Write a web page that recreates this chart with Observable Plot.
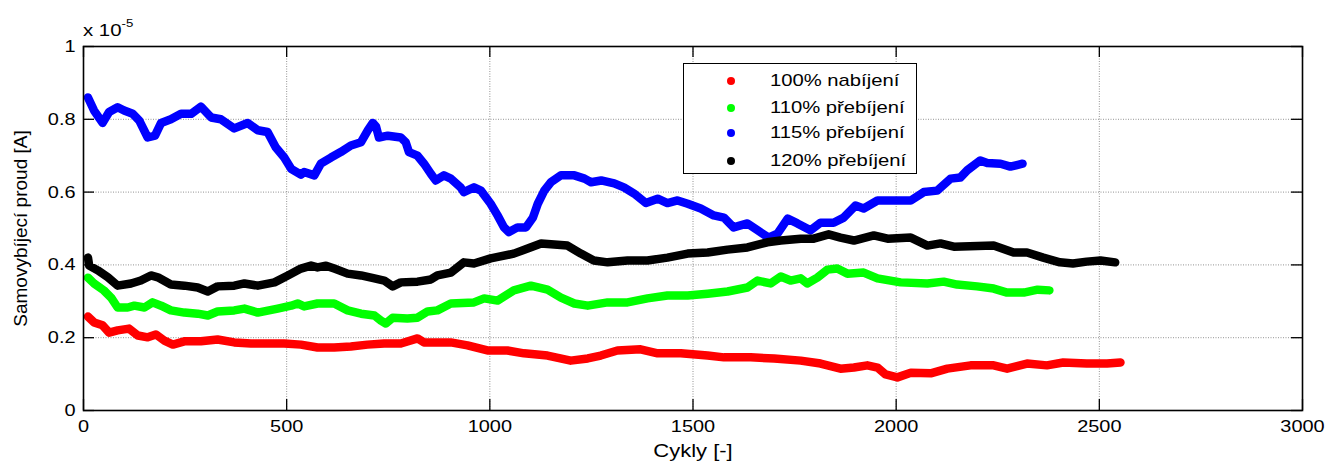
<!DOCTYPE html>
<html>
<head>
<meta charset="utf-8">
<script src="https://cdn.jsdelivr.net/npm/d3@7"></script>
<script src="https://cdn.jsdelivr.net/npm/@observablehq/plot@0.6"></script>
<style>
  html, body { margin: 0; padding: 0; background: #fff; }
  #wrap { position: relative; width: 1326px; height: 462px; font-family: "Liberation Sans", Arial, sans-serif; }
  #expo { position: absolute; left: 83px; top: 21px; font-size: 17px; color: #000; transform: scaleX(1.2); transform-origin: left center; white-space: nowrap; }
  #expo sup { font-size: 11px; position: relative; top: -4px; vertical-align: top; }
  #legend { position: absolute; left: 683px; top: 63px; width: 232px; height: 109px; border: 1.5px solid #000; background: #fff; font-size: 17px; }
  .row { position: absolute; left: 0; height: 20px; line-height: 20px; }
  .row .dot { position: absolute; left: 43px; top: 6px; width: 8px; height: 8px; border-radius: 50%; }
  .row .lab { position: absolute; left: 86px; white-space: nowrap; transform: scaleX(1.19); transform-origin: left center; }
</style>
</head>
<body>
<div id="wrap"></div>
<script>
// ---- data (y in units of 1e-5 A) ----
const xTicks = [0, 500, 1000, 1500, 2000, 2500, 3000];
const yTicks = [0, 0.2, 0.4, 0.6, 0.8, 1];

const seriesNames = ["100% nabíjení", "110% přebíjení", "115% přebíjení", "120% přebíjení"];
const seriesColors = ["#ff0000", "#00ff00", "#0000ff", "#000000"];

const cycles100 = [11,26,47,63,84,112,134,158,178,199,220,248,289,330,371,412,453,494,535,576,617,658,699,740,781,822,838,904,945,994,1043,1084,1142,1199,1241,1273,1314,1371,1413,1470,1536,1576,1642,1700,1765,1814,1863,1896,1929,1954,1974,2003,2036,2085,2126,2183,2240,2273,2322,2371,2411,2469,2519,2552];
const current100 = [.258,.242,.234,.214,.22,.225,.206,.201,.209,.192,.181,.19,.19,.195,.187,.184,.184,.184,.181,.173,.173,.176,.181,.184,.184,.198,.187,.187,.179,.165,.165,.157,.151,.137,.143,.151,.165,.168,.157,.157,.151,.146,.146,.143,.137,.129,.115,.118,.124,.118,.099,.091,.104,.102,.115,.124,.124,.115,.129,.124,.132,.129,.129,.132];

const cycles110 = [11,26,50,68,84,109,125,150,170,191,215,248,281,306,330,371,396,429,478,511,527,543,576,617,650,683,716,732,744,761,797,822,847,871,904,961,986,1019,1059,1101,1142,1175,1208,1241,1290,1339,1388,1437,1487,1536,1585,1634,1659,1691,1716,1740,1765,1781,1806,1831,1855,1880,1920,1954,2011,2077,2117,2150,2199,2240,2273,2314,2348,2377];
const current110 = [.365,.349,.33,.31,.283,.283,.288,.283,.297,.288,.275,.269,.266,.261,.272,.275,.28,.269,.28,.288,.294,.286,.294,.294,.275,.266,.261,.247,.239,.255,.253,.255,.272,.275,.294,.297,.308,.302,.33,.343,.332,.31,.294,.288,.297,.297,.308,.316,.316,.321,.327,.338,.357,.349,.368,.357,.363,.349,.365,.387,.39,.376,.379,.363,.352,.349,.354,.346,.341,.335,.324,.324,.332,.33];

const cycles115 = [11,26,47,63,84,100,121,137,158,176,191,215,240,265,289,314,338,371,404,429,453,473,494,511,535,543,568,584,609,633,658,683,700,712,720,727,749,781,793,801,822,838,855,867,887,904,928,936,961,978,1002,1019,1035,1047,1068,1089,1106,1118,1134,1150,1175,1208,1233,1249,1274,1306,1330,1355,1384,1413,1437,1462,1487,1519,1551,1576,1600,1634,1659,1686,1708,1733,1757,1789,1814,1846,1871,1900,1920,1954,1994,2036,2068,2101,2134,2158,2175,2207,2224,2257,2281,2311];
const current115 = [.86,.824,.79,.82,.833,.824,.815,.797,.75,.755,.79,.80,.815,.815,.835,.805,.80,.775,.79,.77,.765,.723,.695,.664,.648,.655,.646,.678,.695,.71,.728,.737,.77,.79,.78,.75,.755,.75,.737,.71,.70,.678,.65,.632,.646,.637,.613,.60,.613,.604,.568,.536,.503,.49,.503,.503,.53,.568,.604,.627,.646,.646,.637,.627,.632,.624,.613,.596,.57,.582,.57,.577,.568,.555,.536,.53,.503,.514,.495,.475,.486,.527,.514,.495,.516,.516,.53,.563,.555,.577,.577,.577,.60,.604,.637,.64,.66,.687,.68,.678,.67,.678];

const cycles120 = [11,14,35,60,84,117,141,166,183,215,248,281,306,330,371,396,429,470,503,535,560,576,597,617,650,683,716,740,761,781,822,855,871,904,936,961,1002,1059,1093,1126,1191,1224,1256,1290,1339,1388,1437,1487,1536,1585,1634,1683,1716,1765,1797,1834,1863,1896,1945,1979,2036,2077,2109,2142,2240,2289,2322,2362,2403,2435,2469,2503,2539];
const current120 = [.42,.398,.385,.366,.343,.349,.357,.371,.366,.346,.343,.338,.327,.341,.343,.349,.343,.352,.371,.39,.398,.393,.398,.39,.376,.371,.363,.357,.341,.352,.354,.36,.371,.379,.407,.404,.418,.431,.445,.459,.453,.431,.412,.407,.412,.412,.42,.431,.434,.442,.448,.462,.467,.472,.472,.484,.475,.467,.481,.472,.475,.453,.459,.45,.453,.434,.434,.42,.407,.404,.409,.412,.407];

const xs = [cycles100, cycles110, cycles115, cycles120];
const ys = [current100, current110, current115, current120];
const rows = [];
seriesNames.forEach((name, s) => {
  xs[s].forEach((x, i) => rows.push({series: name, cycle: x, current: ys[s][i]}));
});

const fmt = d => String(d);

// layout
const W = 1326, H = 462, mL = 83, mR = 24, mT = 46, mB = 52;
const innerW = W - mL - mR, innerH = H - mT - mB;
const tickLen = 11;
const tickStyle = {stroke: "#000", strokeWidth: 1.3};

const chart = Plot.plot({
  width: W,
  height: H,
  marginLeft: mL,
  marginRight: mR,
  marginTop: mT,
  marginBottom: mB,
  style: {fontFamily: "'Liberation Sans', Arial, sans-serif", fontSize: "17px", color: "#000", background: "#fff"},
  x: {domain: [0, 3000]},
  y: {domain: [0, 1]},
  color: {domain: seriesNames, range: seriesColors},
  marks: [
    Plot.gridX(xTicks, {stroke: "#777", strokeOpacity: 1, strokeDasharray: "1,1.5", strokeWidth: 0.8}),
    Plot.gridY(yTicks, {stroke: "#777", strokeOpacity: 1, strokeDasharray: "1,1.5", strokeWidth: 0.8}),
    Plot.line(rows, {x: "cycle", y: "current", z: "series", stroke: "series", strokeWidth: 8.5, strokeLinecap: "round", strokeLinejoin: "round"}),
    Plot.axisX(xTicks, {anchor: "bottom", tickSize: 0, tickPadding: 9, tickFormat: fmt, label: "Cykly [-]", labelAnchor: "center", labelOffset: 46, labelArrow: "none"}),
    Plot.axisY(yTicks, {anchor: "left", tickSize: 0, tickPadding: 8, tickFormat: fmt, label: "Samovybíjecí proud [A]", labelAnchor: "center", labelOffset: 70, labelArrow: "none"}),
    // inward ticks on all four sides
    Plot.tickX(xTicks, {x: d => d, insetTop: innerH - tickLen, ...tickStyle}),
    Plot.tickX(xTicks, {x: d => d, insetBottom: innerH - tickLen, ...tickStyle}),
    Plot.tickY(yTicks, {y: d => d, insetRight: innerW - tickLen, ...tickStyle}),
    Plot.tickY(yTicks, {y: d => d, insetLeft: innerW - tickLen, ...tickStyle}),
    Plot.frame({stroke: "#000", strokeWidth: 1.6})
  ]
});

const wrap = document.getElementById("wrap");
wrap.appendChild(chart);

// The reference text is rendered horizontally widened; mimic it with textLength.
chart.querySelectorAll("text").forEach(t => {
  const s = t.textContent || "";
  if (!s.trim()) return;
  if (s.indexOf("Samovyb") >= 0) {
    t.style.fontSize = "19px";
    return;
  }
  let factor = 1.17;
  if (s.indexOf("Cykly") >= 0) { t.style.fontSize = "18px"; factor = 1.22; }
  const len = t.getComputedTextLength();
  if (len > 0) {
    t.setAttribute("textLength", (len * factor).toFixed(1));
    t.setAttribute("lengthAdjust", "spacingAndGlyphs");
  }
});

const expo = document.createElement("div");
expo.id = "expo";
expo.innerHTML = "x 10<sup>-5</sup>";
wrap.appendChild(expo);

const legend = document.createElement("div");
legend.id = "legend";
const rowTops = [7, 34, 59, 87];
seriesNames.forEach((name, i) => {
  const r = document.createElement("div");
  r.className = "row";
  r.style.top = rowTops[i] + "px";
  const d = document.createElement("span");
  d.className = "dot";
  d.style.background = seriesColors[i];
  const t = document.createElement("span");
  t.className = "lab";
  t.textContent = name;
  r.appendChild(d); r.appendChild(t);
  legend.appendChild(r);
});
wrap.appendChild(legend);
</script>
</body>
</html>
